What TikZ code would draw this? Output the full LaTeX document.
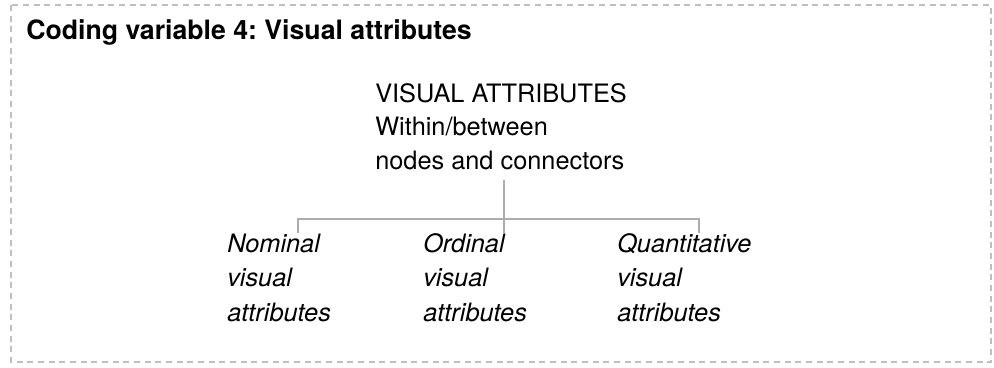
\documentclass[tikz,border=0pt]{standalone}
\usepackage{fontspec}
\setmainfont{TeX Gyre Heros}
\usepackage{tikz}
\usetikzlibrary{positioning}
\frenchspacing

\tikzset{
  frame/.style={draw=gray!50, line width=0.8pt, dash pattern=on 4.5pt off 3.5pt},
  branch/.style={draw=gray!65, line width=0.9pt},
  heading/.style={font=\fontsize{20}{24}\selectfont\bfseries, inner sep=0pt, anchor=base west},
  rootlabel/.style={font=\fontsize{19}{24.8}\selectfont, align=left, inner sep=0pt, anchor=base west},
  leaflabel/.style={font=\fontsize{19}{25.6}\selectfont\itshape, align=left, inner sep=0pt, anchor=base west}
}

\begin{document}
\begin{tikzpicture}[x=0.75pt, y=-0.75pt]

\useasboundingbox (0,0) rectangle (994,367);

% Marc

\draw[frame] (11,5) rectangle (991,362);

% Titol

\node[heading] (title) at (26,40) {Coding variable 4: Visual attributes};

% Arrel (base = darrera linia)

\node[rootlabel] (root) at (375,169) {VISUAL ATTRIBUTES\\Within/between\\nodes and connectors};

% Fulles

\node[leaflabel] (nominal) at (227,321) {Nominal\\visual\\attributes};

\node[leaflabel] (ordinal) at (423,321) {Ordinal\\visual\\attributes};

\node[leaflabel] (quantitative) at (617,321) {Quantitative\\visual\\attributes};

% Branques

\coordinate (rootstem) at (504,180);
\coordinate (nominalstem) at (298,233);
\coordinate (ordinalstem) at (504,233);
\coordinate (quantitativestem) at (699,233);

\draw[branch] (rootstem) -- (ordinalstem);

\draw[branch] (nominalstem) -- ++(0,-14) -| (quantitativestem);

\end{tikzpicture}
\end{document}
